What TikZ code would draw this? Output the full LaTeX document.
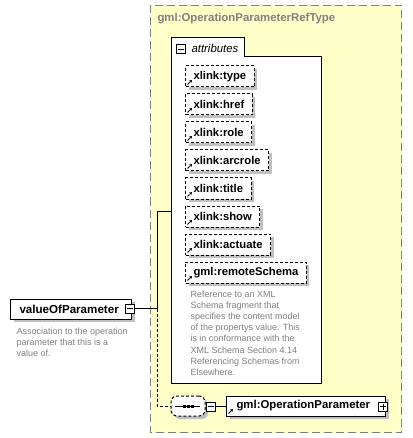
\documentclass[tikz,border=0pt]{standalone}
\usepackage{fontspec}
\setmainfont{Liberation Sans}
\usetikzlibrary{arrows.meta,shadows}
\definecolor{typefill}{HTML}{FFFFC8}
\definecolor{shade}{HTML}{C0C0C0}
\definecolor{note}{HTML}{808080}

\begin{document}
\begin{tikzpicture}[x=1pt,y=-1pt,line width=1pt,
    shadowed/.style={drop shadow={shadow xshift=3pt,shadow yshift=-3pt,fill=shade,opacity=1}},
    refarrow/.style={path picture={\draw[-{Triangle[length=2.6pt,width=3pt]},line width=0.9pt]
        ([shift={(2pt,2.5pt)}]path picture bounding box.south west) -- ++(4.5pt,4.5pt);}},
    attr/.style={draw,dash pattern=on 3pt off 2pt,fill=white,shadowed,refarrow,anchor=west,
      inner xsep=8pt,inner ysep=0pt,minimum height=21pt,font=\bfseries\fontsize{11.3}{12}\selectfont},
    minus/.style={draw,fill=white,line width=0.8pt,inner sep=0pt,minimum size=9pt,
      path picture={\draw[line width=0.8pt] ([xshift=1.5pt]path picture bounding box.west)
        -- ([xshift=-1.5pt]path picture bounding box.east);}},
    plus/.style={minus,path picture={\draw[line width=0.8pt]
        ([xshift=1.5pt]path picture bounding box.west) -- ([xshift=-1.5pt]path picture bounding box.east)
        ([yshift=-1.5pt]path picture bounding box.north) -- ([yshift=1.5pt]path picture bounding box.south);}},
    remark/.style={anchor=north west,inner sep=0pt,align=left,text=note,font=\fontsize{9}{11.1}\selectfont}]
  \useasboundingbox (0,0) rectangle (412,438);
  % complex type
  \draw[note,fill=typefill,dash pattern=on 8pt off 4pt] (150.5,5.5) rectangle (401.5,432.5);
  \node[anchor=west,inner sep=0pt,text=note,font=\bfseries\fontsize{11.4}{13}\selectfont] (title) at (157,19) {gml:OperationParameterRefType};
  % attributes
  \draw[fill=white] (171,38) -- (244,38) -- (244,57) -- (321.5,57) -- (321.5,383) -- (171,383) -- cycle;
  \node[minus] (attmin) at (181,49) {};
  \node[anchor=west,inner sep=0pt,font=\itshape\fontsize{11.4}{12}\selectfont] (atttitle) at (191,48) {attributes};
  \coordinate (attin) at (171,211);
  \node[attr] (xtype) at (185,76.5) {xlink:type};
  \node[attr] (xhref) at (185,104.5) {xlink:href};
  \node[attr] (xrole) at (185,132.5) {xlink:role};
  \node[attr] (xarcrole) at (185,160.5) {xlink:arcrole};
  \node[attr] (xtitle) at (185,188.5) {xlink:title};
  \node[attr] (xshow) at (185,216.5) {xlink:show};
  \node[attr] (xactuate) at (185,244.5) {xlink:actuate};
  \node[attr] (remote) at (185,272.5) {gml:remoteSchema};
  \node[remark] (remotenote) at (190,290.5) {Reference to an XML\\Schema fragment that\\specifies the content model\\of the propertys value. This\\is in conformance with the\\XML Schema Section 4.14\\Referencing Schemas from\\Elsewhere.};
  % element
  \node[draw,fill=white,shadowed,anchor=west,inner xsep=9pt,inner ysep=0pt,minimum height=20pt,
    text width=103pt,align=left,font=\bfseries\fontsize{11.6}{12}\selectfont] (value) at (10,309) {valueOfParameter};
  \node[minus] (valmin) at (130,308.5) {};
  \node[remark] (valnote) at (16,327.5) {Association to the operation\\parameter that this is a\\value of.};
  % sequence
  \node[draw,dash pattern=on 3pt off 2pt,fill=white,shadowed,rounded corners=6pt,
    minimum width=34pt,minimum height=20pt,inner sep=0pt] (seq) at (188,406) {};
  \draw ([xshift=-13pt]seq.center) -- ([xshift=12pt]seq.center);
  \fill ([xshift=-4pt]seq.center) +(-1.5,-1.5) rectangle +(1.5,1.5);
  \fill (seq.center) +(-1.5,-1.5) rectangle +(1.5,1.5);
  \fill ([xshift=4pt]seq.center) +(-1.5,-1.5) rectangle +(1.5,1.5);
  \node[minus] (seqmin) at (211,406.5) {};
  \node[draw,fill=white,shadowed,refarrow,anchor=west,inner xsep=10pt,inner ysep=0pt,minimum height=20pt,
    text width=139pt,align=left,font=\bfseries\fontsize{11.4}{13}\selectfont] (oper) at (226,406) {gml:OperationParameter};
  \node[plus] (operplus) at (383,406.5) {};
  % connectors
  \coordinate (fork) at (157,308.5);
  \draw (valmin.east) -- (fork) |- (attin);
  \draw[dash pattern=on 3pt off 2pt] (fork) |- (seq.west);
  \draw (seqmin.east) -- (oper.west |- seqmin.east);
\end{tikzpicture}
\end{document}
